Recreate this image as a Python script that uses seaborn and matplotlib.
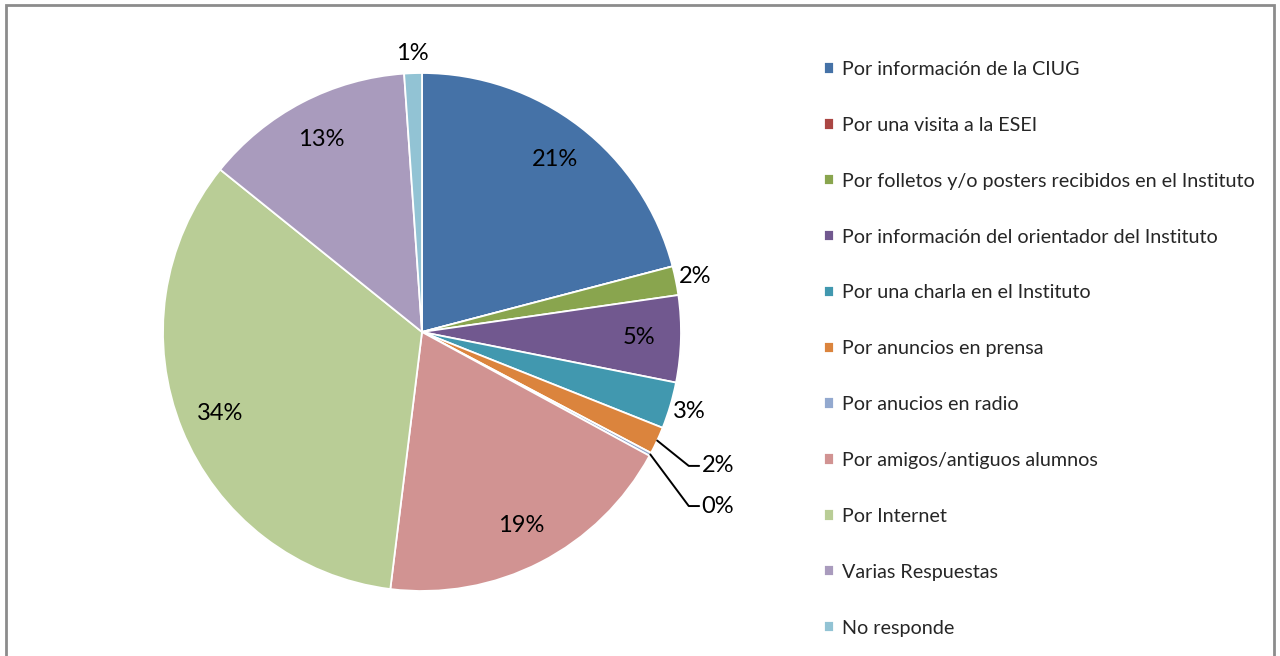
import numpy as np
import matplotlib
matplotlib.use("Agg")
import matplotlib.pyplot as plt
import seaborn as sns
from matplotlib.patches import Rectangle

# data (percent of answers)
categories = [
    "Por información de la CIUG",
    "Por una visita a la ESEI",
    "Por folletos y/o posters recibidos en el Instituto",
    "Por información del orientador del Instituto",
    "Por una charla en el Instituto",
    "Por anuncios en prensa",
    "Por anucios en radio",
    "Por amigos/antiguos alumnos",
    "Por Internet",
    "Varias Respuestas",
    "No responde",
]
values = [20.9, 0.0, 1.8, 5.4, 2.9, 1.7, 0.2, 19.0, 33.8, 13.1, 1.1]
colors = ["#4572A7", "#AA4643", "#89A54E", "#71588F", "#4198AF", "#DB843D",
          "#93A9CF", "#D19392", "#B9CD96", "#A99BBD", "#92C3D4"]

# how each label is placed: inside, outside, or with a leader line
label_mode = ["in", "none", "out", "in", "out", "leader", "leader", "in", "in", "in", "out"]

sns.set_theme(style="white")
plt.rcParams["font.family"] = ["Lato", "DejaVu Sans"]
FS_LEG = 14.2
FS_LAB = 17

W, H = 1280, 656
fig = plt.figure(figsize=(W / 100, H / 100), dpi=100)
cx, cy, R = 422, 332, 259
ax = fig.add_axes([(cx - R) / W, (H - cy - R) / H, 2 * R / W, 2 * R / H])

wedges, _ = ax.pie(values, colors=colors, startangle=90, counterclock=False,
                   wedgeprops=dict(edgecolor="white", linewidth=1.3))
ax.set_xlim(-1, 1)
ax.set_ylim(-1, 1)
ax.set_aspect("equal")
ax.axis("off")

total = sum(values)
leader_text = {5: (1.07, -0.517), 6: (1.07, -0.672)}
for i, (w, mode) in enumerate(zip(wedges, label_mode)):
    if mode == "none":
        continue
    txt = f"{values[i] / total * 100:.0f}%"
    ang = np.deg2rad((w.theta1 + w.theta2) / 2)
    if mode in ("in", "out"):
        d = 0.84 if mode == "in" else 1.075
        ax.text(d * np.cos(ang), d * np.sin(ang), txt, ha="center", va="center",
                fontsize=FS_LAB, color="black")
    else:
        tx, ty = leader_text[i]
        ex, ey = np.cos(ang), np.sin(ang)
        ax.plot([ex, tx - 0.04, tx], [ey, ty, ty], color="black", lw=1.4,
                clip_on=False)
        ax.text(tx + 0.01, ty, txt, ha="left", va="center", fontsize=FS_LAB,
                color="black")

fig.legend(wedges, categories, loc="upper left", bbox_to_anchor=(824 / W, 1 - 61 / H),
           frameon=False, fontsize=FS_LEG, handlelength=0.52, handleheight=0.52,
           handletextpad=0.4, labelspacing=1.97, borderpad=0, borderaxespad=0)

# chart border
fig.patches.append(Rectangle((5.5 / W, -0.05), (1274 - 5.5) / W, 1.05 - 5.5 / H,
                             transform=fig.transFigure, fill=False,
                             edgecolor="#8C8C8C", linewidth=2))

fig.savefig("out.png", dpi=100)
